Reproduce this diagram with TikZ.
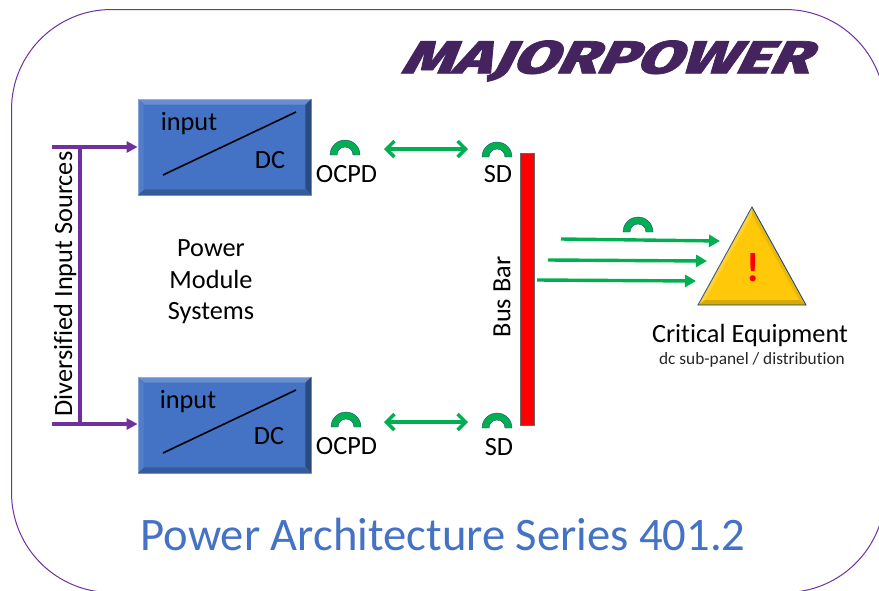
\documentclass[tikz,border=0pt]{standalone}
\usepackage{fontspec}
\setmainfont{Carlito}[Ligatures=NoCommon]
\newfontfamily\logofont{Fira Sans}[UprightFont=* ExtraBold,RawFeature={embolden=1.5}]
\usetikzlibrary{arrows.meta}
\definecolor{mpurple}{HTML}{7030A0}
\definecolor{mgreen}{HTML}{00B050}
\definecolor{mblue}{HTML}{4472C4}
\definecolor{mblued}{HTML}{2A4A85}
\definecolor{myellow}{HTML}{FFC90A}
\definecolor{logocol}{HTML}{44235F}
\definecolor{titleblue}{HTML}{4472C4}
\tikzset{
  x=1pt,y=-1pt,
  conv/.style={fill=mblue,draw=mblue!70!white,line width=0.8pt,minimum width=173pt,minimum height=96pt,inner sep=0pt},
  lbl/.style={font=\fontsize{26.3}{30}\selectfont,inner sep=0pt,text=black},
  feed/.style={draw=mpurple,line width=3.6pt},
  feedarrow/.style={feed,-{Triangle[length=11pt,width=11pt]}},
  flow/.style={draw=mgreen,line width=3.4pt,-{Triangle[length=11pt,width=12pt]}},
  link/.style={draw=mgreen,line width=3.4pt,{Straight Barb[length=8pt,width=16pt]}-{Straight Barb[length=8pt,width=16pt]}},
  arcsym/.style={fill=mgreen,draw=mblued,line width=0.4pt},
}
\newcommand{\breaker}[2]{%
  \fill[arcsym] (#1-15,#2) arc[start angle=180,end angle=0,x radius=15,y radius=-15] -- ++(-7,0)
    arc[start angle=0,end angle=180,x radius=8,y radius=-8] -- cycle;}
\begin{document}
\begin{tikzpicture}
\useasboundingbox (0,0) rectangle (879,590);
\clip (0,0) rectangle (879,590);
\fill[white] (0,0) rectangle (879,590);
\draw[mpurple,line width=1pt,rounded corners=100pt] (11.5,9.5) rectangle (885,592.5);
% logo
\node[text=logocol,inner sep=0pt,font=\logofont\fontsize{44}{44}\selectfont,xscale=1.47,yscale=1.05,xslant=0.36,transform shape] (logo) at (610,61) {MAJORPOWER};
% converters
\node[conv] (c1) at (224.5,147) {};
\node[conv] (c2) at (224.5,425) {};
\foreach \n in {c1,c2}{
  \fill[white,opacity=.2] (\n.north west) -- (\n.north east) -- ++(-6,6) -- ++(-161,0) -- cycle;
  \fill[white,opacity=.08] (\n.north west) -- (\n.south west) -- ++(6,-6) -- ++(0,-84) -- cycle;
  \fill[black,opacity=.35] (\n.south east) -- (\n.north east) -- ++(-6,6) -- ++(0,84) -- cycle;
  \fill[black,opacity=.2] (\n.south west) -- (\n.south east) -- ++(-6,-6) -- ++(-161,0) -- cycle;
}
\draw[black,line width=1.6pt] (163,175) -- (296,112);
\draw[black,line width=1.6pt] (163,453) -- (296,390);
\node[lbl] (i1) at (189,124) {input};
\node[lbl] (d1) at (270,160.5) {DC};
\node[lbl] (i2) at (188,402) {input};
\node[lbl] (d2) at (269,436.5) {DC};
% feed
\coordinate (f1) at (52,147);
\coordinate (f2) at (52,424);
\coordinate (j1) at (80,147);
\coordinate (j2) at (80,424);
\draw[feed] (j1) -- (j2);
\draw[feedarrow] (f1) -- (c1.west|-f1);
\draw[feedarrow] (f2) -- (c2.west|-f2);
\node[lbl,rotate=90] (src) at (65,284) {Diversified Input Sources};
\node[lbl,align=center,font=\fontsize{26.3}{31.5}\selectfont] (pm) at (211,282) {Power\\Module\\Systems};
% breakers
\breaker{345}{155}
\breaker{497}{157}
\breaker{346}{427}
\breaker{497}{428}
\breaker{638}{232}
\node[lbl] (o1) at (346.5,174) {OCPD};
\node[lbl] (s1) at (498,174) {SD};
\node[lbl] (o2) at (346.5,446) {OCPD};
\node[lbl] (s2) at (499,447) {SD};
\coordinate (l1a) at (384,149);
\coordinate (l1b) at (468,149);
\coordinate (l2a) at (384,422);
\coordinate (l2b) at (468,422);
\draw[link] (l1a) -- (l1b);
\draw[link] (l2a) -- (l2b);
% bus
\node[fill=red,draw=black!60,line width=0.7pt,minimum width=14pt,minimum height=272pt,inner sep=0pt] (bus) at (527,289) {};
\node[lbl,rotate=90] (bb) at (502,297) {Bus Bar};
% triangle
\coordinate (ta) at (752,207);
\coordinate (tb) at (698,305);
\coordinate (tc) at (806,305);
\fill[myellow,draw=mblued,line width=0.9pt] (ta) -- (tc) -- (tb) -- cycle;
\fill[black,opacity=.16] (tb) -- (tc) -- (799,300) -- (705,300) -- cycle;
\fill[black,opacity=.08] (ta) -- (tc) -- (799,300) -- (752,215) -- cycle;
\fill[white,opacity=.15] (ta) -- (tb) -- (705,300) -- (752,215) -- cycle;
\node[font=\bfseries\fontsize{41}{41}\selectfont,text=red,inner sep=0pt] (ex) at (753,268) {!};
% flows
\coordinate (a1) at (561,239);
\coordinate (b1) at (720,241);
\coordinate (a2) at (548,260);
\coordinate (b2) at (707,261);
\coordinate (a3) at (537,280);
\coordinate (b3) at (696,281);
\draw[flow] (a1) -- (b1);
\draw[flow] (a2) -- (b2);
\draw[flow] (a3) -- (b3);
\node[lbl] (ce) at (750,335) {Critical Equipment};
\node[inner sep=0pt,font=\fontsize{17.3}{20}\selectfont,text=black!85] (sub) at (752,360) {dc sub-panel / distribution};
\node[inner sep=0pt,text=titleblue,font=\fontsize{46.6}{50}\selectfont] (title) at (443,534) {Power Architecture Series 401.2};
\end{tikzpicture}
\end{document}
